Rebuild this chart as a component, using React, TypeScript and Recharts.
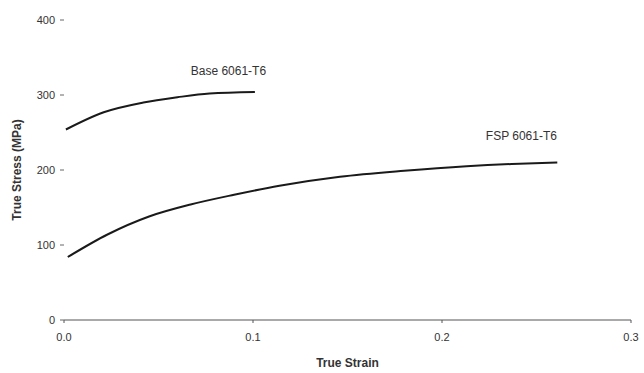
import { LineChart, Line, XAxis, YAxis, ReferenceDot } from "recharts"

// True stress-strain curves
const baseStrain = [0.001, 0.021, 0.042, 0.06, 0.077, 0.101]
const baseStress = [254, 277, 290, 297, 302, 304]

const fspStrain = [0.002, 0.023, 0.045, 0.067, 0.09, 0.114, 0.146, 0.18, 0.213, 0.237, 0.261]
const fspStress = [84, 114, 138, 154, 167, 179, 191, 199, 205, 208, 210]

const xTicks = [0, 0.1, 0.2, 0.3]
const yTicks = [0, 100, 200, 300, 400]

const baseData = baseStrain.map((s, i) => ({ strain: s, stress: baseStress[i] }))
const fspData = fspStrain.map((s, i) => ({ strain: s, stress: fspStress[i] }))

const font = "'Liberation Sans', Arial, sans-serif"
const tickStyle = { fontSize: 11, fill: "#333", fontFamily: font }

const SeriesLabel = ({ text }: { text: string }) => (props: any) => {
  const { viewBox } = props
  return (
    <text x={viewBox.x} y={viewBox.y} textAnchor="middle" fontSize={12} fill="#333" fontFamily={font}>
      {text}
    </text>
  )
}

export default function App() {
  return (
    <div style={{ position: "absolute", left: 0, top: 0, background: "#fff" }}>
      <LineChart width={644} height={373} margin={{ top: 20, right: 13, bottom: 3, left: 0 }}>
        <XAxis
          type="number"
          dataKey="strain"
          domain={[0, 0.3]}
          ticks={xTicks}
          tickFormatter={(v: number) => v.toFixed(1)}
          tick={tickStyle}
          tickSize={3}
          tickMargin={10}
          stroke="#555"
          height={50}
          allowDuplicatedCategory={false}
          label={{
            value: "True Strain",
            position: "insideBottom",
            offset: 3,
            style: { fontSize: 12, fontWeight: "bold", fill: "#333", fontFamily: font },
          }}
        />
        <YAxis
          type="number"
          domain={[0, 400]}
          ticks={yTicks}
          tick={tickStyle}
          axisLine={false}
          tickSize={4}
          tickMargin={5}
          stroke="#666"
          width={64}
          label={{
            value: "True Stress (MPa)",
            angle: -90,
            position: "insideLeft",
            offset: 17,
            style: { fontSize: 12, fontWeight: "bold", fill: "#333", fontFamily: font, textAnchor: "middle" },
          }}
        />
        <Line
          data={baseData}
          dataKey="stress"
          type="monotone"
          stroke="#1a1a1a"
          strokeWidth={2}
          dot={false}
          isAnimationActive={false}
        />
        <Line
          data={fspData}
          dataKey="stress"
          type="monotone"
          stroke="#1a1a1a"
          strokeWidth={2}
          dot={false}
          isAnimationActive={false}
        />
        <ReferenceDot x={0.087} y={327} r={0} fill="none" stroke="none" label={SeriesLabel({ text: "Base 6061-T6" })} />
        <ReferenceDot x={0.242} y={240} r={0} fill="none" stroke="none" label={SeriesLabel({ text: "FSP 6061-T6" })} />
      </LineChart>
    </div>
  )
}
